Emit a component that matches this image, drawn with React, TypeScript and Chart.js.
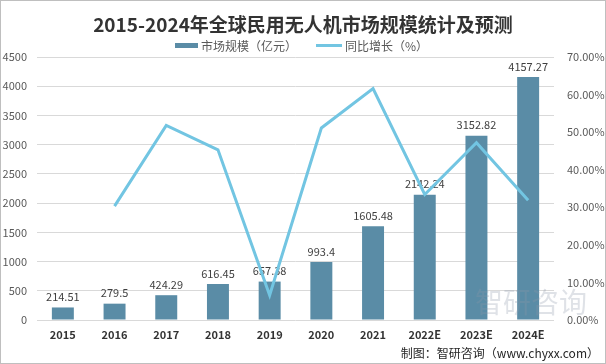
import React, { useEffect, useRef } from "react";
import { Chart, registerables } from "chart.js";

Chart.register(...registerables);

const categories = ["2015", "2016", "2017", "2018", "2019", "2020", "2021", "2022E", "2023E", "2024E"];
const marketSize = [214.51, 279.5, 424.29, 616.45, 657.38, 993.4, 1605.48, 2142.24, 3152.82, 4157.27];
const growthRate = [null, 0.303, 0.518, 0.453, 0.066, 0.511, 0.616, 0.334, 0.472, 0.319];
const titleText = "2015-2024年全球民用无人机市场规模统计及预测";
const legendBar = "市场规模（亿元）";
const legendLine = "同比增长（%）";
const footerText = "制图：智研咨询（www.chyxx.com）";
const watermarkText = "智研咨询";

const BAR_COLOR = "#5a8ca6";
const LINE_COLOR = "#72c5e2";
const FONT = "'Noto Sans CJK SC', 'Noto Sans', sans-serif";

export default function App() {
  const ref = useRef<HTMLCanvasElement | null>(null);

  useEffect(() => {
    document.body.style.margin = "0";
    const canvas = ref.current!;
    const decor = {
      id: "decor",
      beforeDraw(chart: any) {
        const ctx = chart.ctx;
        ctx.save();
        ctx.fillStyle = "#ffffff";
        ctx.fillRect(0, 0, chart.width, chart.height);
        ctx.restore();
      },
      afterDatasetDraw(chart: any, args: any) {
        if (args.index !== 0) return;
        const ctx = chart.ctx;
        const meta = chart.getDatasetMeta(0);
        ctx.save();
        ctx.font = `11px ${FONT}`;
        ctx.fillStyle = "#404040";
        ctx.textAlign = "center";
        ctx.textBaseline = "bottom";
        meta.data.forEach((bar: any, i: number) => {
          ctx.fillText(String(marketSize[i]), bar.x, bar.y - 5);
        });
        ctx.restore();
      },
      afterDraw(chart: any) {
        const ctx = chart.ctx;
        ctx.save();
        // title
        ctx.font = `bold 19px ${FONT}`;
        ctx.fillStyle = "#333333";
        ctx.textAlign = "center";
        ctx.textBaseline = "middle";
        ctx.fillText(titleText, 303, 25);
        // legend
        ctx.font = `12px ${FONT}`;
        ctx.textAlign = "left";
        ctx.fillStyle = BAR_COLOR;
        ctx.fillRect(175, 43, 23, 5);
        ctx.fillStyle = "#595959";
        ctx.fillText(legendBar, 201, 46);
        ctx.strokeStyle = LINE_COLOR;
        ctx.lineWidth = 3;
        ctx.beginPath();
        ctx.moveTo(316, 45.5);
        ctx.lineTo(342, 45.5);
        ctx.stroke();
        ctx.fillText(legendLine, 345, 46);
        // watermark
        ctx.font = `28px ${FONT}`;
        ctx.fillStyle = "rgba(140,150,170,0.28)";
        ctx.fillText(watermarkText, 475, 302);
        // footer
        ctx.font = `12px ${FONT}`;
        ctx.fillStyle = "#262626";
        ctx.textAlign = "right";
        ctx.fillText(footerText, 599, 353);
        // border
        ctx.strokeStyle = "#bfbfbf";
        ctx.lineWidth = 1;
        ctx.strokeRect(0.5, 0.5, chart.width - 1, chart.height - 1);
        ctx.restore();
      },
    };

    const chart = new Chart(canvas, {
      data: {
        labels: categories,
        datasets: [
          {
            type: "bar",
            label: legendBar,
            data: marketSize,
            backgroundColor: BAR_COLOR,
            yAxisID: "y",
            order: 2,
            barPercentage: 0.85,
            categoryPercentage: 0.5,
          },
          {
            type: "line",
            label: legendLine,
            data: growthRate as any,
            borderColor: LINE_COLOR,
            backgroundColor: LINE_COLOR,
            borderWidth: 3,
            pointRadius: 0,
            tension: 0,
            yAxisID: "y1",
            order: 1,
          },
        ],
      },
      options: {
        responsive: false,
        animation: false,
        devicePixelRatio: 1,
        layout: { padding: { top: 57, left: 0, right: 0, bottom: 0 } },
        plugins: {
          legend: { display: false },
          title: { display: false },
          tooltip: { enabled: false },
        },
        scales: {
          x: {
            grid: { display: false, drawTicks: false },
            border: { display: false },
            ticks: {
              padding: 8,
              color: "#333333",
              font: { family: FONT, size: 11, weight: "bold" },
              maxRotation: 0,
              autoSkip: false,
            },
            afterFit(scale: any) {
              scale.height = 44;
            },
          },
          y: {
            position: "left",
            min: 0,
            max: 4500,
            grid: { color: "#d9d9d9", drawTicks: false },
            border: { display: false },
            ticks: {
              stepSize: 500,
              padding: 10,
              color: "#595959",
              font: { family: FONT, size: 11 },
              callback: (v: any) => String(v),
            },
            afterFit(scale: any) {
              scale.width = 37;
            },
          },
          y1: {
            position: "right",
            min: 0,
            max: 0.7,
            grid: { display: false, drawTicks: false },
            border: { display: false },
            ticks: {
              stepSize: 0.1,
              padding: 13,
              color: "#595959",
              font: { family: FONT, size: 11 },
              callback: (v: any) => (Number(v) * 100).toFixed(2) + "%",
            },
            afterFit(scale: any) {
              scale.width = 52;
            },
          },
        },
      } as any,
      plugins: [decor],
    });
    return () => chart.destroy();
  }, []);

  return <canvas ref={ref} width={606} height={364} style={{ display: "block" }} />;
}
